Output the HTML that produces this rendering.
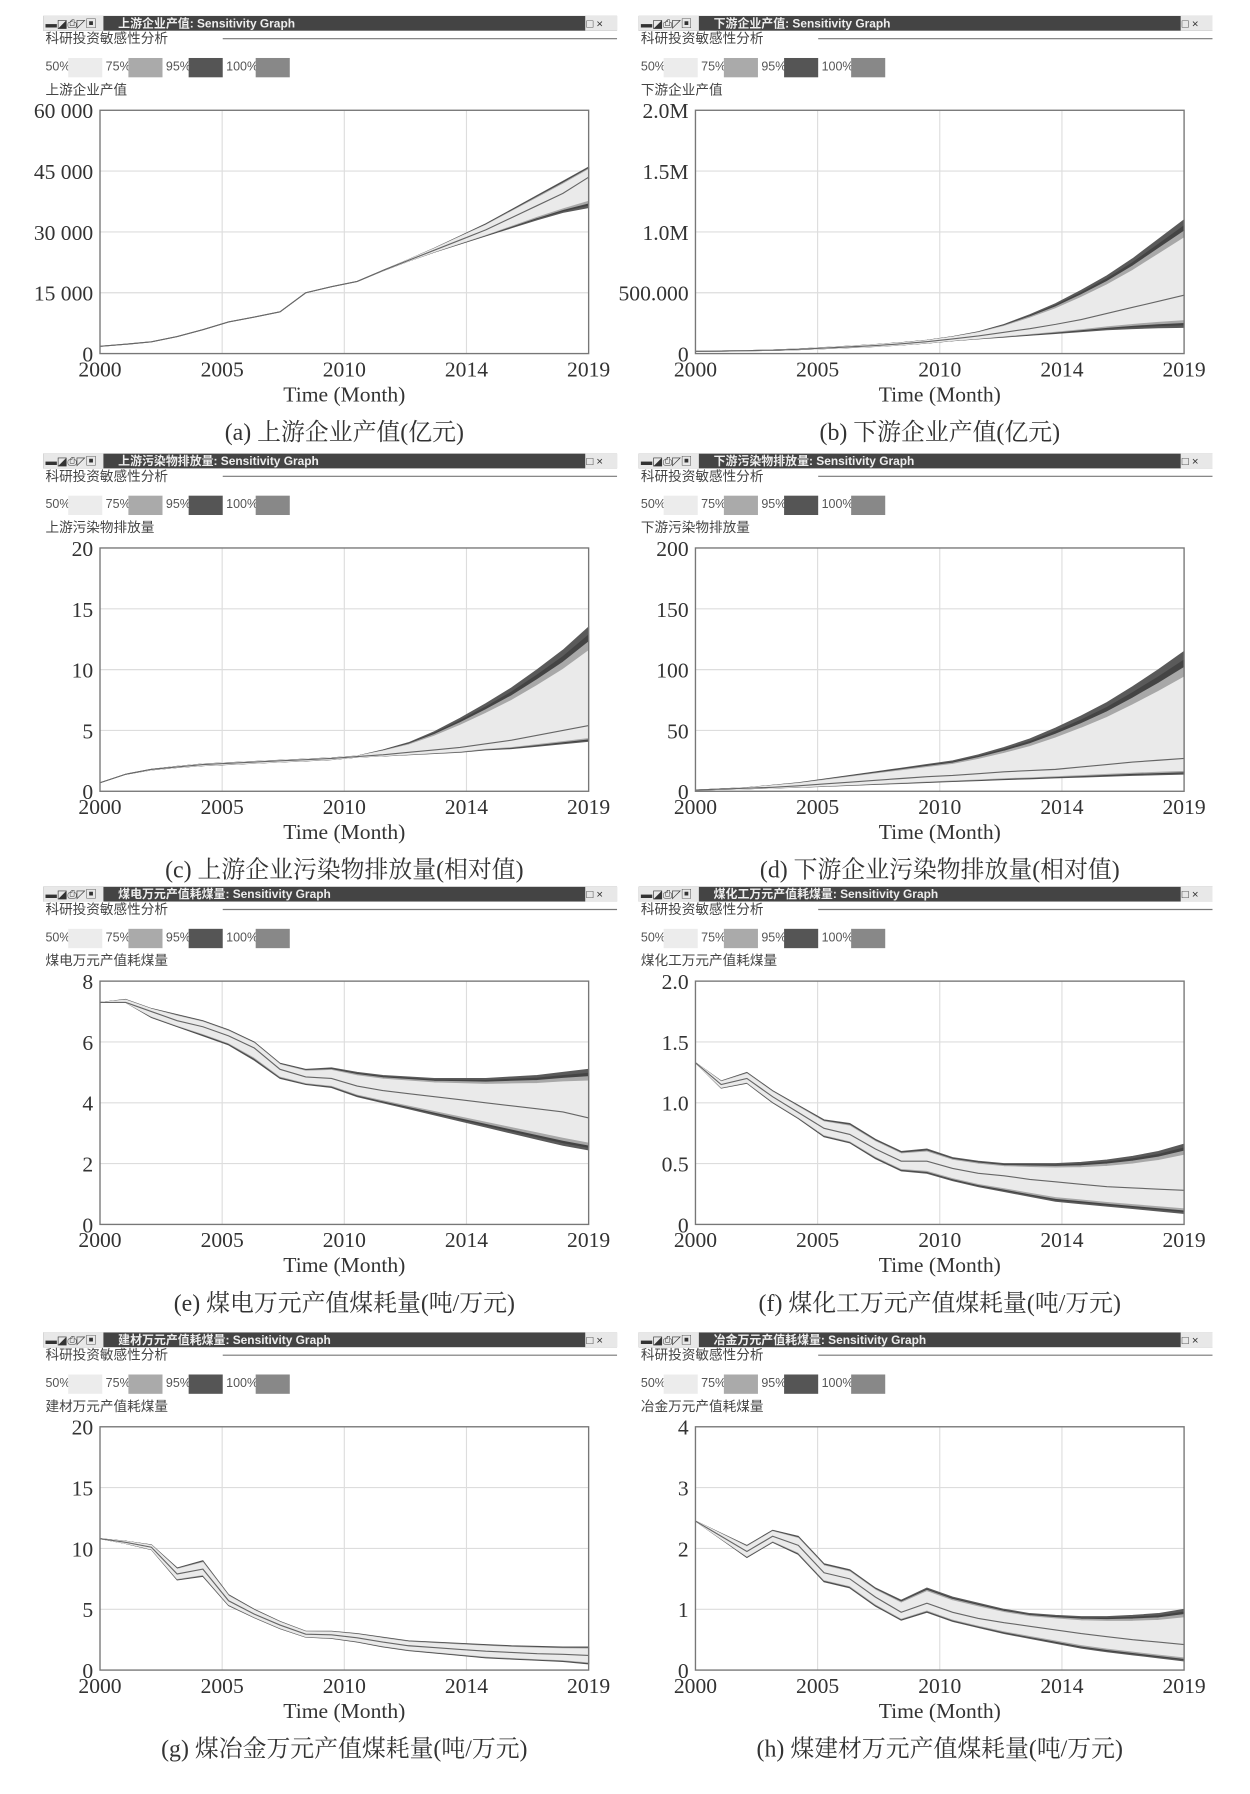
<!DOCTYPE html>
<html><head><meta charset="utf-8">
<style>
html,body{margin:0;padding:0;background:#fff;}
svg{display:block;}
text{font-family:"Liberation Serif","Noto Serif CJK SC",serif;}
.sm{font-family:"Liberation Sans","Noto Sans CJK SC",sans-serif;}
</style></head>
<body>
<svg id="root" width="1250" height="1794" viewBox="0 0 1100 1578" preserveAspectRatio="none" xmlns="http://www.w3.org/2000/svg"></svg>
<script>
const years=[2000,2001,2002,2003,2004,2005,2006,2007,2008,2009,2010,2011,2012,2013,2014,2015,2016,2017,2018,2019];
const tickPos=[2000,2004.75,2009.5,2014.25,2019];
const tickLabels=["2000","2005","2010","2014","2019"];

const aUpper=[1800,2300,2900,4200,5900,7800,9000,10300,15000,16500,17800,20500,23200,26000,29000,32000,35500,39000,42500,46000];
const aMid=[1800,2300,2900,4200,5900,7800,9000,10300,15000,16500,17800,20500,23000,25500,28000,30500,33500,36500,39500,43500];
const aLower=[1800,2300,2900,4200,5900,7800,9000,10300,15000,16500,17800,20400,22800,25000,27000,29000,31000,33000,34800,36000];
const aTicks=["0","15 000","30 000","45 000","60 000"];

const bUpper=[20000,22000,25000,30000,38000,50000,62000,75000,90000,110000,140000,180000,240000,320000,410000,520000,640000,780000,940000,1100000];
const bMid=[19000,21000,24000,28000,35000,45000,55000,66000,80000,98000,120000,145000,175000,205000,240000,280000,330000,380000,430000,480000];
const bLower=[18000,20000,23000,26000,32000,40000,49000,58000,70000,85000,105000,120000,135000,150000,165000,180000,195000,205000,212000,215000];
const bTicks=["0","500.000","1.0M","1.5M","2.0M"];

const cUpper=[0.7,1.4,1.8,2.05,2.25,2.35,2.45,2.55,2.65,2.75,2.9,3.4,4.0,4.9,6.0,7.2,8.5,10.0,11.6,13.5];
const cMid=[0.7,1.4,1.8,2.0,2.2,2.3,2.4,2.5,2.6,2.7,2.85,3.0,3.2,3.4,3.6,3.9,4.2,4.6,5.0,5.4];
const cLower=[0.7,1.4,1.75,1.95,2.1,2.2,2.3,2.4,2.5,2.6,2.8,2.9,3.0,3.1,3.2,3.4,3.5,3.7,3.9,4.1];
const cTicks=["0","5","10","15","20"];

const dUpper=[1,2,3,5,7,10,13,16,19,22,25,30,36,43,52,62,73,86,100,115];
const dMid=[1,1.8,2.5,3.3,4.5,6,7.5,9,10.5,12,13,14.5,16,17,18,20,22,24,25.5,27];
const dLower=[1,1.5,2,2.7,3.3,4,4.8,5.6,6.4,7.2,8,8.7,9.5,10.2,11,11.6,12.3,13,13.5,14];
const dTicks=["0","50","100","150","200"];

const eUpper=[7.3,7.4,7.1,6.9,6.7,6.4,6.0,5.3,5.1,5.15,5.0,4.9,4.85,4.8,4.8,4.8,4.85,4.9,5.0,5.1];
const eMid=[7.3,7.3,7.0,6.7,6.5,6.2,5.8,5.1,4.85,4.8,4.55,4.4,4.3,4.2,4.1,4.0,3.9,3.8,3.7,3.5];
const eLower=[7.3,7.3,6.8,6.5,6.2,5.9,5.4,4.8,4.6,4.5,4.2,4.0,3.8,3.6,3.4,3.2,3.0,2.8,2.6,2.45];
const eTicks=["0","2","4","6","8"];

const fUpper=[1.33,1.18,1.25,1.1,0.98,0.86,0.83,0.7,0.6,0.62,0.55,0.52,0.5,0.5,0.5,0.51,0.53,0.56,0.6,0.66];
const fMid=[1.33,1.15,1.2,1.05,0.92,0.79,0.74,0.62,0.52,0.52,0.46,0.42,0.4,0.37,0.35,0.33,0.31,0.3,0.29,0.28];
const fLower=[1.33,1.12,1.16,1.0,0.87,0.72,0.67,0.54,0.44,0.42,0.36,0.31,0.27,0.23,0.19,0.17,0.15,0.13,0.11,0.09];
const fTicks=["0","0.5","1.0","1.5","2.0"];

const gUpper=[10.8,10.6,10.3,8.4,9.0,6.2,5.0,4.0,3.2,3.2,3.0,2.7,2.4,2.3,2.2,2.1,2.0,1.95,1.9,1.9];
const gMid=[10.8,10.5,10.1,7.9,8.3,5.7,4.6,3.7,2.95,2.9,2.65,2.3,2.0,1.85,1.7,1.55,1.45,1.35,1.3,1.2];
const gLower=[10.8,10.4,9.9,7.4,7.7,5.3,4.3,3.4,2.7,2.6,2.3,1.9,1.6,1.4,1.2,1.0,0.9,0.8,0.7,0.5];
const gTicks=["0","5","10","15","20"];

const hUpper=[2.45,2.25,2.05,2.3,2.2,1.75,1.65,1.35,1.15,1.35,1.2,1.1,1.0,0.93,0.9,0.88,0.88,0.9,0.93,1.0];
const hMid=[2.45,2.2,1.95,2.2,2.05,1.6,1.5,1.2,0.95,1.1,0.95,0.85,0.78,0.72,0.66,0.6,0.55,0.5,0.46,0.42];
const hLower=[2.45,2.15,1.85,2.1,1.9,1.45,1.35,1.05,0.82,0.95,0.8,0.7,0.6,0.52,0.44,0.36,0.3,0.25,0.2,0.15];
const hTicks=["0","1","2","3","4"];

const yMaxes=[60000,2000000,20,200,8,2,20,4];
const captions=["(a) 上游企业产值(亿元)","(b) 下游企业产值(亿元)","(c) 上游企业污染物排放量(相对值)","(d) 下游企业污染物排放量(相对值)","(e) 煤电万元产值煤耗量(吨/万元)","(f) 煤化工万元产值煤耗量(吨/万元)","(g) 煤冶金万元产值煤耗量(吨/万元)","(h) 煤建材万元产值煤耗量(吨/万元)"];
const varNames=["上游企业产值","下游企业产值","上游污染物排放量","下游污染物排放量","煤电万元产值耗煤量","煤化工万元产值耗煤量","建材万元产值耗煤量","冶金万元产值耗煤量"];

const panels=[
 [aUpper,aMid,aLower,aTicks],[bUpper,bMid,bLower,bTicks],
 [cUpper,cMid,cLower,cTicks],[dUpper,dMid,dLower,dTicks],
 [eUpper,eMid,eLower,eTicks],[fUpper,fMid,fLower,fTicks],
 [gUpper,gMid,gLower,gTicks],[hUpper,hMid,hLower,hTicks]];

const NS="http://www.w3.org/2000/svg";
const root=document.getElementById('root');
function mk(tag,attrs,parent,txt){const e=document.createElementNS(NS,tag);for(const k in attrs)e.setAttribute(k,attrs[k]);if(txt!==undefined)e.textContent=txt;(parent||root).appendChild(e);return e;}

const rowTops=[20,405,786,1178];
panels.forEach((p,i)=>{
  const col=i%2,row=Math.floor(i/2);
  const hx=col?562:38, hy=rowTops[row];
  const px0=col?612:88, px1=col?1042:518;
  const py0=hy+77, py1=hy+291;
  const g=mk('g',{});
  
  
  const hb=mk('rect',{x:hx,y:hy-6,width:505,height:13,fill:'#444'},g);
  
  
  mk('rect',{x:hx,y:hy-6,width:53,height:13,fill:'#e8e8e8'},g);
  mk('text',{x:hx+2,y:hy+4,'font-size':10,fill:'#333',class:'sm'},g,'▬◪⎙◸▣');
  const tt=mk('text',{x:hx+66,y:hy+4,'font-size':10.5,'font-weight':'bold',fill:'#eee',class:'sm'},g,varNames[i]+': Sensitivity Graph');
  
  
  mk('rect',{x:hx+477,y:hy-6,width:28,height:13,fill:'#e8e8e8'},g);
  const mx=mk('text',{x:hx+478,y:hy+4,'font-size':10,fill:'#333',class:'sm'},g,'□ ×');
  
  
  mk('text',{x:hx+2,y:hy+18,'font-size':12,fill:'#444',class:'sm'},g,'科研投资敏感性分析');
  mk('line',{x1:hx+158,y1:hy+14,x2:hx+505,y2:hy+14,stroke:'#777','stroke-width':1},g);
  const leg=[['50%','#ececec'],['75%','#aaa'],['95%','#555'],['100%','#888']];
  let lx=hx+2;
  leg.forEach(([lab,c])=>{
    const t=mk('text',{x:lx,y:hy+42,'font-size':11,fill:'#555',class:'sm'},g,lab);
    
    
    const w=lab.length*6+2;
    const r=mk('rect',{x:lx+w,y:hy+31,width:30,height:17,fill:c},g);
    
    
    lx+=w+33;
  });
  const vn=mk('text',{x:hx+2,y:hy+63,'font-size':12,fill:'#444',class:'sm'},g,varNames[i]);
  
  
  const ymax=yMaxes[i];
  const X=v=>px0+(v-2000)/19*(px1-px0);
  const Y=v=>py1-v/ymax*(py1-py0);
  [0.25,0.5,0.75].forEach(f=>{
    mk('line',{x1:px0+f*(px1-px0),x2:px0+f*(px1-px0),y1:py0,y2:py1,stroke:'#ddd'},g);
    mk('line',{x1:px0,x2:px1,y1:py1-f*(py1-py0),y2:py1-f*(py1-py0),stroke:'#ddd'},g);
  });
  const [up,mid,lo,yt]=p;
  function band(k,fill,name){
    const u=years.map((y,j)=>[X(y),Y(mid[j]+k*(up[j]-mid[j]))]);
    const l=years.map((y,j)=>[X(y),Y(mid[j]+k*(lo[j]-mid[j]))]).reverse();
    const pts=u.concat(l).map(q=>q.join(',')).join(' ');
    const e=mk('polygon',{points:pts,fill:fill,stroke:fill,'stroke-width':0.8},g);
    
    
  }
  band(1,'#5a5a5a','band-100');
  band(0.92,'#444','band-95');
  band(0.85,'#a8a8a8','band-75');
  band(0.76,'#eaeaea','band-50');
  const ml=mk('polyline',{points:years.map((y,j)=>X(y)+','+Y(mid[j])).join(' '),fill:'none',stroke:'#666','stroke-width':1},g);
  
  
  const frame=mk('rect',{x:px0,y:py0,width:px1-px0,height:py1-py0,fill:'none',stroke:'#777','stroke-width':1.2},g);
  
  
  yt.forEach((lab,k)=>{
    const t=mk('text',{x:px0-6,y:py1-k/4*(py1-py0)+7,'font-size':19,'text-anchor':'end',fill:'#333'},g,lab);
    
    
  });
  tickPos.forEach((v,k)=>{
    const t=mk('text',{x:X(v),y:py1+20,'font-size':19,'text-anchor':'middle',fill:'#333'},g,tickLabels[k]);
    
    
  });
  const xt=mk('text',{x:(px0+px1)/2,y:py1+42,'font-size':19,'text-anchor':'middle',fill:'#333'},g,'Time (Month)');
  
  
  const cp=mk('text',{x:(px0+px1)/2,y:py1+76,'font-size':21,'text-anchor':'middle',fill:'#333'},g,captions[i]);
  
  
});
</script>
</body></html>
